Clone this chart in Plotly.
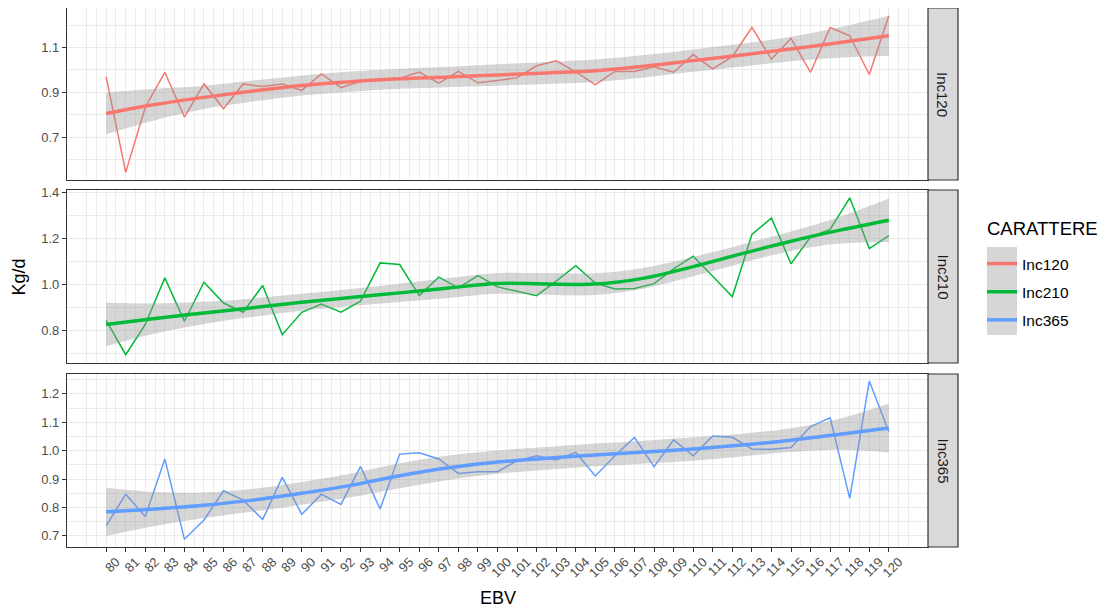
import numpy as np
import plotly.graph_objects as go
from plotly.subplots import make_subplots

# ---------------- data ----------------
ebv = list(range(80, 121))
ebv_tick_labels = [str(v) for v in ebv]
series_names = ["Inc120", "Inc210", "Inc365"]
series_colors = ["#F8766D", "#00BA38", "#619CFF"]

inc120 = [0.970, 0.542, 0.833, 0.989, 0.789, 0.937, 0.826, 0.937, 0.925, 0.937,
          0.908, 0.982, 0.920, 0.949, 0.958, 0.963, 0.990, 0.940, 0.993, 0.942,
          0.952, 0.965, 1.018, 1.040, 0.991, 0.934, 0.993, 0.993, 1.014, 0.989,
          1.068, 1.004, 1.059, 1.189, 1.048, 1.140, 0.989, 1.189, 1.152, 0.979,
          1.241]
inc210 = [0.845, 0.696, 0.827, 1.029, 0.841, 1.010, 0.920, 0.880, 0.996, 0.783,
          0.880, 0.916, 0.880, 0.928, 1.094, 1.087, 0.952, 1.032, 0.986, 1.039,
          0.990, 0.970, 0.952, 1.015, 1.082, 1.007, 0.981, 0.983, 1.004, 1.068,
          1.123, 1.036, 0.947, 1.217, 1.289, 1.090, 1.207, 1.239, 1.376, 1.156,
          1.212]
inc365 = [0.735, 0.847, 0.768, 0.971, 0.688, 0.756, 0.859, 0.826, 0.758, 0.906,
          0.776, 0.847, 0.811, 0.944, 0.795, 0.988, 0.993, 0.971, 0.920, 0.926,
          0.926, 0.965, 0.982, 0.967, 0.994, 0.911, 0.982, 1.047, 0.944, 1.038,
          0.982, 1.052, 1.047, 1.006, 1.005, 1.011, 1.085, 1.116, 0.832, 1.245,
          1.067]

# loess smooth (read at every 2.5 EBV units) and its confidence band
smooth_x = [80, 82.5, 85, 87.5, 90, 92.5, 95, 97.5, 100, 102.5, 105, 107.5,
            110, 112.5, 115, 117.5, 120]
smooth120 = [0.805, 0.845, 0.877, 0.905, 0.930, 0.947, 0.960, 0.968, 0.977,
             0.986, 0.996, 1.016, 1.041, 1.066, 1.093, 1.122, 1.152]
lo120 = [0.712, 0.775, 0.825, 0.858, 0.885, 0.902, 0.915, 0.922, 0.929,
         0.937, 0.946, 0.966, 0.991, 1.015, 1.038, 1.054, 1.063]
hi120 = [0.898, 0.915, 0.929, 0.952, 0.975, 0.992, 1.005, 1.014, 1.025,
         1.035, 1.046, 1.066, 1.091, 1.117, 1.148, 1.190, 1.241]

smooth210 = [0.827, 0.853, 0.877, 0.900, 0.923, 0.944, 0.964, 0.985, 1.005,
             1.003, 1.002, 1.028, 1.078, 1.134, 1.188, 1.236, 1.279]
lo210 = [0.733, 0.788, 0.829, 0.860, 0.886, 0.907, 0.924, 0.942, 0.960,
         0.956, 0.955, 0.983, 1.036, 1.094, 1.146, 1.178, 1.185]
hi210 = [0.921, 0.918, 0.925, 0.940, 0.960, 0.981, 1.004, 1.028, 1.050,
         1.050, 1.049, 1.073, 1.120, 1.174, 1.230, 1.294, 1.373]

smooth365 = [0.785, 0.795, 0.808, 0.826, 0.850, 0.878, 0.912, 0.940, 0.960,
             0.973, 0.985, 0.995, 1.006, 1.020, 1.037, 1.058, 1.080]
lo365 = [0.700, 0.735, 0.763, 0.786, 0.810, 0.836, 0.868, 0.897, 0.919,
         0.933, 0.945, 0.955, 0.965, 0.980, 0.995, 1.003, 0.994]
hi365 = [0.870, 0.855, 0.853, 0.866, 0.890, 0.920, 0.956, 0.983, 1.001,
         1.013, 1.025, 1.035, 1.047, 1.060, 1.079, 1.113, 1.166]

raw = [inc120, inc210, inc365]
smooth = [smooth120, smooth210, smooth365]
lower = [lo120, lo210, lo365]
upper = [hi120, hi210, hi365]

y_ranges = [[0.508, 1.276], [0.660, 1.410], [0.661, 1.270]]
y_dticks = [0.2, 0.2, 0.1]
y_tick0 = [0.7, 0.8, 0.7]

# ---------------- layout geometry ----------------
# the page body has an 8px margin, so the figure is drawn 8px in and down
OFF = 8
W, H = 1100, 603
ML, MR, MT, MB = 67 - OFF, W - (958 - OFF), 0, H - (547 - OFF)
PW = W - ML - MR
PH = H - MT - MB


def px(s):
    return (s - OFF - ML) / PW


def py(s):
    return min(1.0, 1.0 - (s - OFF - MT) / PH)


panel_right = px(928)
y_domains = [[py(180), py(7)], [py(363), py(190)], [py(547), py(374)]]

FONT = "Liberation Sans, Arial, sans-serif"
GRID = "#EBEBEB"
DARK = "#333333"
TICKTXT = "#4D4D4D"

fig = make_subplots(rows=3, cols=1)

for i in range(3):
    r = i + 1
    col = series_colors[i]
    fig.add_trace(go.Scatter(x=ebv, y=raw[i], mode="lines",
                             line=dict(color=col, width=1.5),
                             showlegend=False, legendgroup=series_names[i],
                             name=series_names[i]), row=r, col=1)
    fig.add_trace(go.Scatter(x=smooth_x, y=lower[i], mode="lines",
                             line=dict(width=0, shape="spline", color="rgba(0,0,0,0)"),
                             showlegend=False, hoverinfo="skip"), row=r, col=1)
    fig.add_trace(go.Scatter(x=smooth_x, y=upper[i], mode="lines",
                             line=dict(width=0, shape="spline", color="rgba(0,0,0,0)"),
                             fill="tonexty", fillcolor="rgba(153,153,153,0.4)",
                             showlegend=False, hoverinfo="skip"), row=r, col=1)
    fig.add_trace(go.Scatter(x=smooth_x, y=smooth[i], mode="lines",
                             line=dict(color=col, width=3.5, shape="spline"),
                             name=series_names[i], legendgroup=series_names[i],
                             showlegend=True), row=r, col=1)

minor_x = list(np.arange(79, 121.01, 0.5))

for i in range(3):
    r = i + 1
    xa = "xaxis" if r == 1 else f"xaxis{r}"
    ya = "yaxis" if r == 1 else f"yaxis{r}"
    bottom = (r == 3)
    fig.layout[xa].update(
        domain=[0, panel_right], range=[78, 122],
        tickmode="array", tickvals=ebv, ticktext=ebv_tick_labels,
        showticklabels=bottom, ticks="outside" if bottom else "",
        ticklen=4, tickcolor=DARK, tickwidth=1,
        tickangle=-45, ticklabelshift=10 if bottom else 0,
        ticklabelstandoff=-3 if bottom else 0,
        tickfont=dict(family=FONT, size=13, color=TICKTXT),
        showgrid=True, gridcolor=GRID, gridwidth=1.4,
        minor=dict(tickmode="array", tickvals=minor_x, showgrid=True,
                   gridcolor=GRID, gridwidth=0.7, ticks=""),
        showline=True, mirror=True, linecolor=DARK, linewidth=1.2,
        zeroline=False, matches=None, automargin=False)
    fig.layout[ya].update(
        domain=y_domains[i], range=y_ranges[i],
        tick0=y_tick0[i], dtick=y_dticks[i], tickformat=".1f",
        ticks="outside", ticklen=4, tickcolor=DARK, tickwidth=1,
        tickfont=dict(family=FONT, size=13, color=TICKTXT),
        showgrid=True, gridcolor=GRID, gridwidth=1.4,
        minor=dict(dtick=y_dticks[i] / 2, showgrid=True, gridcolor=GRID,
                   gridwidth=0.7, ticks=""),
        showline=True, mirror=True, linecolor=DARK, linewidth=1.2,
        zeroline=False, automargin=False)

shapes = []
annotations = []
for i in range(3):
    d = y_domains[i]
    shapes.append(dict(type="rect", xref="paper", yref="paper",
                       x0=panel_right, x1=1.0, y0=d[0], y1=d[1],
                       fillcolor="#D9D9D9", line=dict(color=DARK, width=1.2),
                       layer="above"))
    annotations.append(dict(xref="paper", yref="paper",
                            x=(panel_right + 1.0) / 2, y=(d[0] + d[1]) / 2,
                            text=series_names[i], showarrow=False, textangle=90,
                            font=dict(family=FONT, size=15, color="#1A1A1A"),
                            xanchor="center", yanchor="middle"))

# grey legend key background (ribbon fill in the keys)
shapes.append(dict(type="rect", xref="paper", yref="paper",
                   x0=px(987), x1=px(1017), y0=py(335), y1=py(247),
                   fillcolor="#D6D6D6", line=dict(width=0), layer="below"))

annotations.append(dict(xref="paper", yref="paper", x=px(985), y=py(228),
                        text="CARATTERE", showarrow=False,
                        font=dict(family=FONT, size=18.5, color="black"),
                        xanchor="left", yanchor="middle"))
annotations.append(dict(xref="paper", yref="paper", x=panel_right / 2,
                        y=py(598), text="EBV", showarrow=False,
                        font=dict(family=FONT, size=18, color="black"),
                        xanchor="center", yanchor="middle"))
annotations.append(dict(xref="paper", yref="paper", x=px(18.5),
                        y=py(277), text="Kg/d", showarrow=False, textangle=-90,
                        font=dict(family=FONT, size=18, color="black"),
                        xanchor="center", yanchor="middle"))

fig.update_layout(
    width=W, height=H,
    margin=dict(l=ML, r=MR, t=MT, b=MB, autoexpand=False),
    paper_bgcolor="white", plot_bgcolor="white",
    font=dict(family=FONT, color="black"),
    shapes=shapes, annotations=annotations,
    showlegend=True,
    legend=dict(x=px(982), y=py(247), xanchor="left",
                yanchor="top", bgcolor="rgba(0,0,0,0)", borderwidth=0,
                font=dict(family=FONT, size=15.5, color="black"),
                tracegroupgap=5, itemwidth=30),
)

fig.write_html("out.html")
